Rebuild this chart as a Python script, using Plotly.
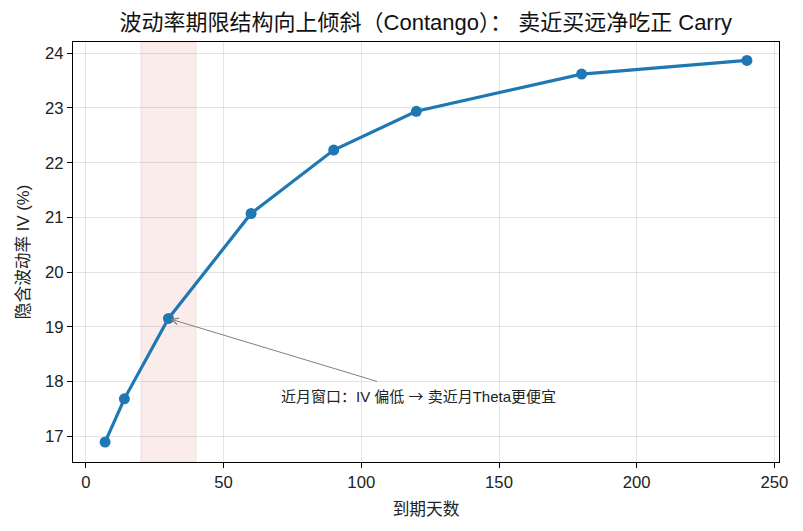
import plotly.graph_objects as go

days = [7, 14, 30, 60, 90, 120, 180, 240]
iv = [16.89, 17.68, 19.15, 21.07, 22.23, 22.94, 23.62, 23.87]
x_ticks = [0, 50, 100, 150, 200, 250]
y_ticks = [17, 18, 19, 20, 21, 22, 23, 24]
window = [20, 40]
title = "波动率期限结构向上倾斜（Contango）： 卖近买远净吃正 Carry"
note = "近月窗口：IV 偏低 <span style='font-family:Noto Sans CJK SC'>→</span> 卖近月Theta更便宜"
note_pos = (70, 17.75)
arrow_tail = (106.3, 17.99)
arrow_head = (30, 19.15)

FONT = "Liberation Sans, Noto Sans CJK SC"

fig = go.Figure()
fig.add_trace(go.Scatter(
    x=days, y=iv, mode="lines+markers",
    line=dict(color="#1f77b4", width=3.2),
    marker=dict(color="#1f77b4", size=11),
    showlegend=False,
))

fig.add_shape(type="rect", xref="x", yref="paper", x0=window[0], x1=window[1],
              y0=0, y1=1, layer="below",
              fillcolor="rgba(214,39,40,0.09)",
              line=dict(color="rgba(214,39,40,0.12)", width=1))

fig.add_annotation(x=note_pos[0], y=note_pos[1], text=note, showarrow=False,
                   xanchor="left", yanchor="middle",
                   font=dict(family=FONT, size=15, color="#222"))
fig.add_annotation(x=arrow_head[0], y=arrow_head[1], ax=arrow_tail[0], ay=arrow_tail[1],
                   axref="x", ayref="y", xref="x", yref="y", text="",
                   showarrow=True, arrowhead=5, arrowsize=1.3, arrowwidth=1,
                   arrowcolor="#808080", standoff=2)

axis_common = dict(
    showline=True, linecolor="black", linewidth=1.2, mirror=True,
    ticks="outside", ticklen=5, tickwidth=1, tickcolor="black",
    showgrid=True, gridcolor="rgba(0,0,0,0.1)", gridwidth=1,
    zeroline=False, tickfont=dict(family=FONT, size=16.7, color="#222"),
)

fig.update_xaxes(range=[-4.65, 251.65], tickvals=x_ticks,
                 title=dict(text="到期天数", font=dict(family=FONT, size=16.7, color="#222"), standoff=12),
                 **axis_common)
fig.update_yaxes(range=[16.525, 24.207], tickvals=y_ticks,
                 title=dict(text="隐含波动率 IV (%)", font=dict(family=FONT, size=16.7, color="#222"), standoff=11),
                 **axis_common)

fig.update_layout(
    width=803, height=531,
    margin=dict(l=73, r=24, t=42, b=69),
    paper_bgcolor="white", plot_bgcolor="white",
    title=dict(text=title, x=0.5303, xanchor="center", y=0.958, yanchor="middle",
               font=dict(family=FONT, size=22, color="#111")),
    font=dict(family=FONT),
)

fig.write_html("out.html")
